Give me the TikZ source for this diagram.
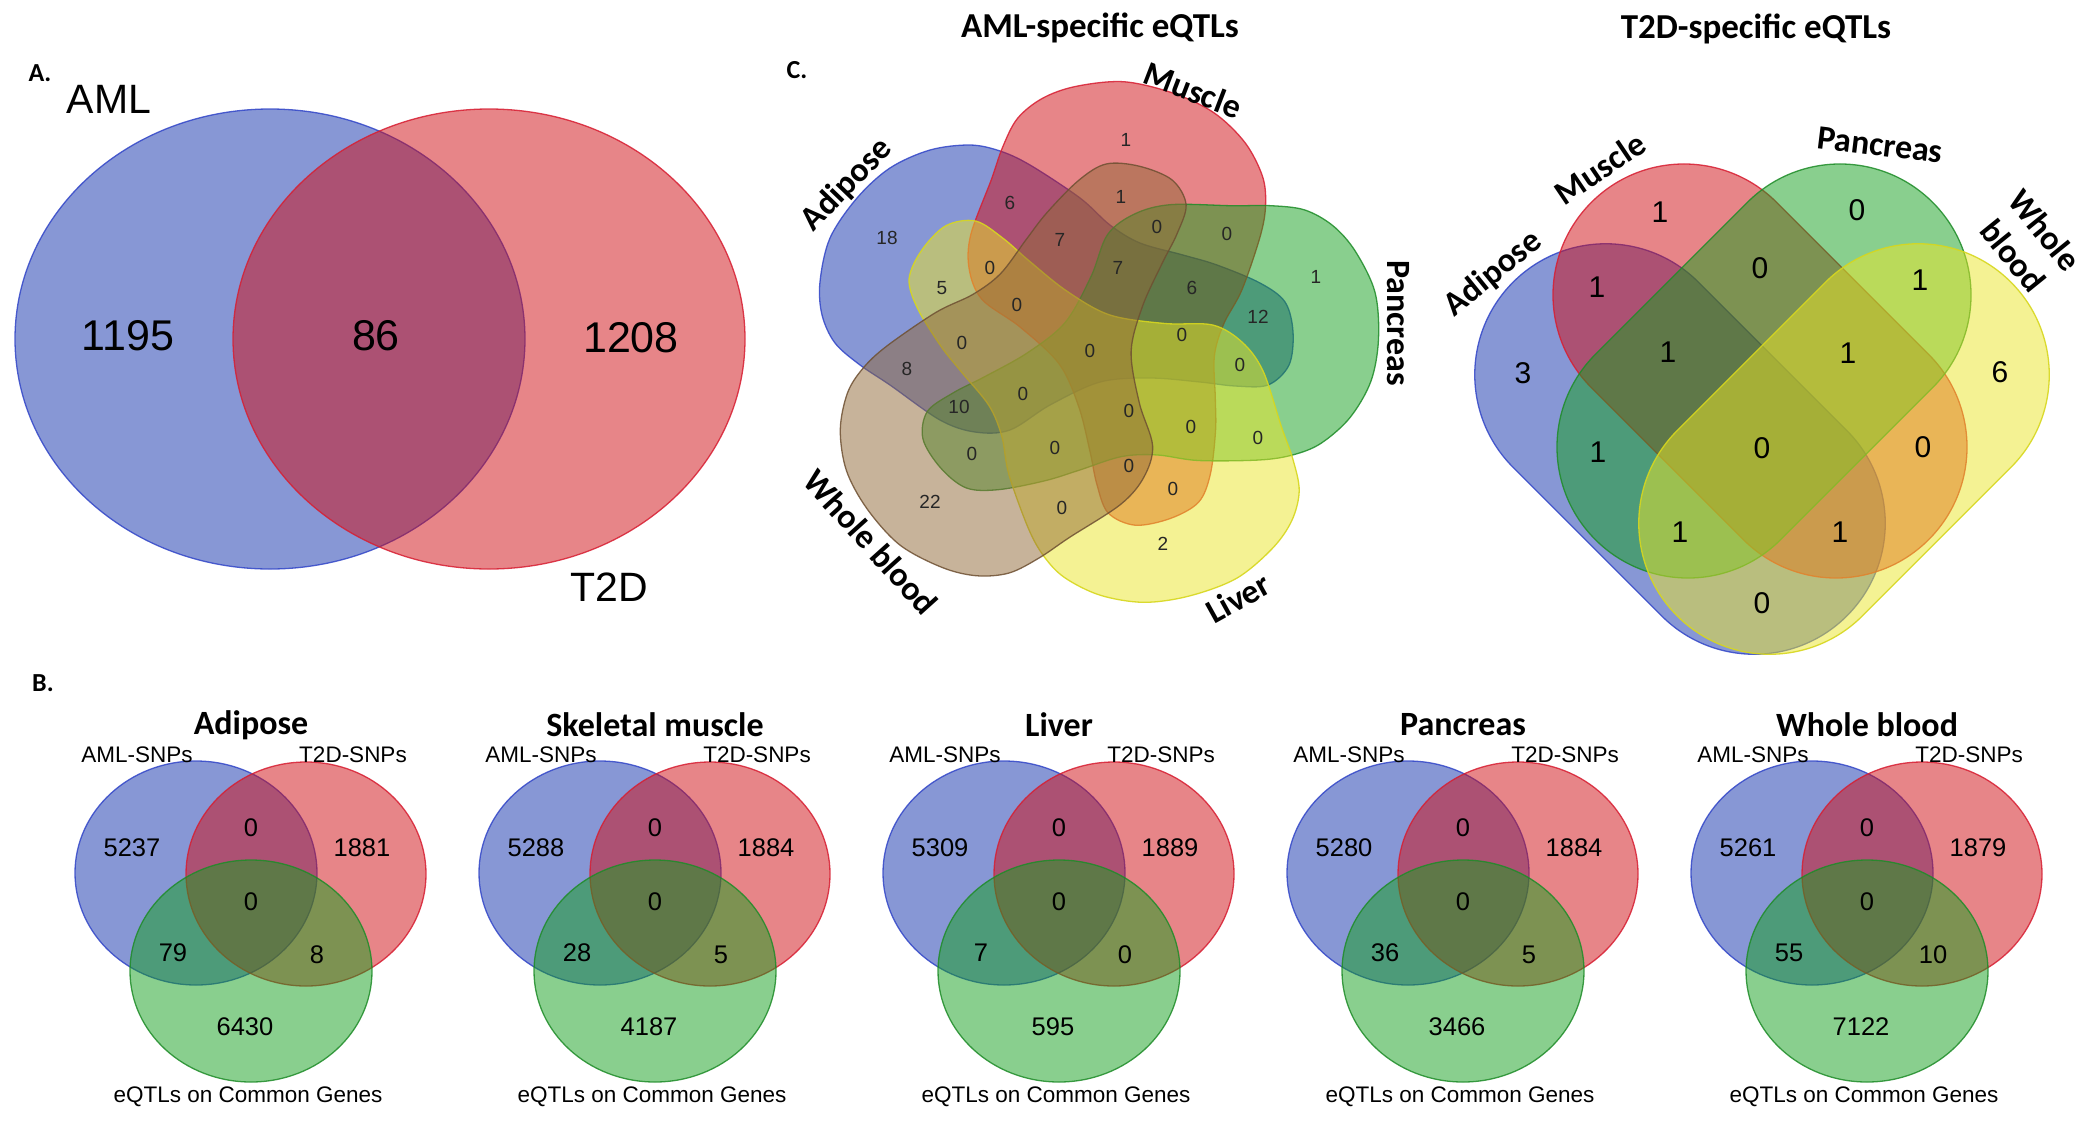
\documentclass[tikz,border=0pt]{standalone}
\usepackage{fontspec}
\setmainfont{Liberation Sans}
\newfontfamily\calfont{Carlito}
\definecolor{cBlue}{RGB}{17,49,173}
\definecolor{cRed}{RGB}{209,13,19}
\definecolor{cGreen}{RGB}{20,160,30}
\definecolor{cYellow}{RGB}{235,230,40}
\definecolor{cBrown}{RGB}{145,105,55}
\definecolor{eBlue}{RGB}{50,70,200}
\definecolor{eRed}{RGB}{215,30,50}
\definecolor{eGreen}{RGB}{30,140,40}
\definecolor{eYellow}{RGB}{215,215,30}
\definecolor{eBrown}{RGB}{110,80,50}
\newcommand\tdstadium[4]{%
  \begin{scope}[shift={#2}, rotate=#3]
    \draw[#1] (-#4,-131) -- (#4,-131) arc[start angle=-90,end angle=90,radius=131]
      -- (-#4,131) arc[start angle=90,end angle=270,radius=131] -- cycle;
  \end{scope}}
\begin{document}
\begin{tikzpicture}[x=1pt,y=-1pt,
  setblue/.style={fill=cBlue, fill opacity=0.5, draw=eBlue, draw opacity=0.85, line width=1.3pt},
  setred/.style={fill=cRed, fill opacity=0.5, draw=eRed, draw opacity=0.85, line width=1.3pt},
  setgreen/.style={fill=cGreen, fill opacity=0.5, draw=eGreen, draw opacity=0.85, line width=1.3pt},
  setyellow/.style={fill=cYellow, fill opacity=0.5, draw=eYellow, draw opacity=0.9, line width=1.3pt},
  setbrown/.style={fill=cBrown, fill opacity=0.5, draw=eBrown, draw opacity=0.85, line width=1.3pt},
  panel/.style={font=\calfont\bfseries\fontsize{26}{30}\selectfont, inner sep=0pt},
  ttl/.style={font=\calfont\bfseries\fontsize{35}{40}\selectfont, inner sep=0pt},
  setlbl/.style={font=\calfont\bfseries\fontsize{34}{41}\selectfont, inner sep=0pt, align=center},
  numA/.style={font=\fontsize{43}{48}\selectfont, inner sep=0pt},
  lblA/.style={font=\fontsize{41}{46}\selectfont, inner sep=0pt},
  numB/.style={font=\fontsize{25.5}{28}\selectfont, inner sep=0pt},
  snp/.style={font=\fontsize{22.5}{26}\selectfont, inner sep=0pt},
  numC/.style={font=\fontsize{19}{22}\selectfont, inner sep=0pt, text=black!85},
  numD/.style={font=\fontsize{30}{34}\selectfont, inner sep=0pt}
]
\fill[white] (0,0) rectangle (2091,1120);
\path[use as bounding box] (0,0) rectangle (2091,1120);

% ---------------- Panel A ----------------
\draw[setblue] (270,339) ellipse[x radius=255, y radius=230];
\draw[setred] (489,339) ellipse[x radius=256, y radius=230];
\node[panel] (labA) at (40,73) {A.};
\node[lblA] (aml) at (109,99) {AML};
\node[lblA] (t2d) at (609,587) {T2D};
\node[numA] (a1) at (128,336) {1195};
\node[numA] (a2) at (376,336) {86};
\node[numA] (a3) at (631,338) {1208};

% ---------------- Panel B ----------------
\node[panel] (labB) at (43,683) {B.};
\foreach \bx/\bt/\na/\nb/\nc/\nd/\ne/\nf/\ng/\id in {
  251/Adipose/5237/0/1881/0/79/8/6430/1,
  655/Skeletal muscle/5288/0/1884/0/28/5/4187/2,
  1059/Liver/5309/0/1889/0/7/0/595/3,
  1463/Pancreas/5280/0/1884/0/36/5/3466/4,
  1867/Whole blood/5261/0/1879/0/55/10/7122/5}{
  \begin{scope}[shift={(\bx,725)}]
    \draw[setblue] (-55,148) ellipse[x radius=121, y radius=112];
    \draw[setred] (55,149) ellipse[x radius=120, y radius=112];
    \draw[setgreen] (0,246) ellipse[x radius=121, y radius=111];
    \node[ttl, font=\calfont\bfseries\fontsize{34}{40}\selectfont] (bt\id) at (0,0) {\bt};
    \node[snp] (bl\id) at (-114,30) {AML-SNPs};
    \node[snp] (br\id) at (102,30) {T2D-SNPs};
    \node[snp] (bb\id) at (-3,372) {eQTLs on Common Genes};
    \node[numB] (bna\id) at (-119,123) {\na};
    \node[numB] (bnb\id) at (0,103) {\nb};
    \node[numB] (bnc\id) at (111,123) {\nc};
    \node[numB] (bnd\id) at (0,177) {\nd};
    \node[numB] (bne\id) at (-78,228) {\ne};
    \node[numB] (bnf\id) at (66,230) {\nf};
    \node[numB] (bng\id) at (-6,302) {\ng};
  \end{scope}
}

% ---------------- Panel C: AML-specific (5 sets) ----------------
\node[panel] (labC) at (797,70) {C.};
\node[ttl] (ttlAML) at (1100,28) {AML-specific eQTLs};
\begin{scope}[shift={(1093,347)}, xscale=1.08]
  \foreach \ang/\sty in {0/setblue,-72/setred,-144/setgreen,-216/setyellow,-288/setbrown}{
    \draw[\sty, rotate=\ang] plot[smooth cycle, tension=0.55] coordinates {
      (-252.8,-65) (-243.5,-109) (-218.5,-149) (-188.0,-179) (-150.9,-197)
      (-113.9,-202) (-86.1,-196) (-58.3,-182) (-12.0,-149) (15.7,-122)
      (43.5,-104) (83.3,-92) (114.8,-82) (154.6,-64) (177.8,-45)
      (185.2,-15) (181.5,18) (162.0,38) (131.5,39) (99.1,35)
      (52.8,31) (6.5,35) (-39.8,58) (-76.9,83) (-109.3,85)
      (-141.7,73) (-188.0,38) (-215.7,18) (-238.9,-4) (-250.9,-32)};
  }
\end{scope}
\node[setlbl, rotate=46] (c5adi) at (847,185) {Adipose};
\node[setlbl, rotate=-21] (c5mus) at (1193,90) {Muscle};
\node[setlbl, rotate=-90] (c5pan) at (1398,323) {Pancreas};
\node[setlbl, rotate=29] (c5liv) at (1238,598) {Liver};
\node[setlbl, rotate=-48] (c5wb) at (871,542) {Whole blood};
\foreach \p/\t [count=\i] in {
  (1126,140)/1, (1010,203)/6, (1121,197)/1, (1060,240)/7, (1157,227)/0,
  (1227,234)/0, (887,238)/18, (1118,268)/7, (990,268)/0, (942,288)/5,
  (1192,288)/6, (1017,305)/0, (1258,317)/12, (1182,335)/0, (1316,277)/1,
  (962,343)/0, (1090,351)/0, (1240,365)/0, (907,369)/8, (1023,394)/0,
  (959,407)/10, (1129,411)/0, (1191,427)/0, (1258,438)/0, (972,454)/0,
  (1055,448)/0, (1129,466)/0, (1173,489)/0, (930,502)/22, (1062,508)/0,
  (1163,544)/2}{
  \node[numC] (c5n\i) at \p {\t};
}

% ---------------- Panel C: T2D-specific (4 sets) ----------------
\node[ttl] (ttlT2D) at (1756,29) {T2D-specific eQTLs};
\tdstadium{setblue}{(1680,449)}{-45}{105}
\tdstadium{setred}{(1760,371)}{-45}{107.5}
\tdstadium{setgreen}{(1764,371)}{45}{107.5}
\tdstadium{setyellow}{(1844,449)}{45}{105}
\node[setlbl, rotate=39] (c4adi) at (1493,274) {Adipose};
\node[setlbl, rotate=34] (c4mus) at (1600,168) {Muscle};
\node[setlbl, rotate=-7] (c4pan) at (1880,145) {Pancreas};
\node[setlbl, rotate=-51] (c4wb) at (2029,243) {Whole\\blood};
\foreach \p/\t [count=\i] in {
  (1660,212)/1, (1857,210)/0, (1597,287)/1, (1760,268)/0, (1920,280)/1,
  (1523,373)/3, (1668,352)/1, (1848,353)/1, (2000,372)/6, (1598,452)/1,
  (1762,448)/0, (1923,447)/0, (1680,532)/1, (1840,532)/1, (1762,603)/0}{
  \node[numD] (c4n\i) at \p {\t};
}
\end{tikzpicture}
\end{document}
